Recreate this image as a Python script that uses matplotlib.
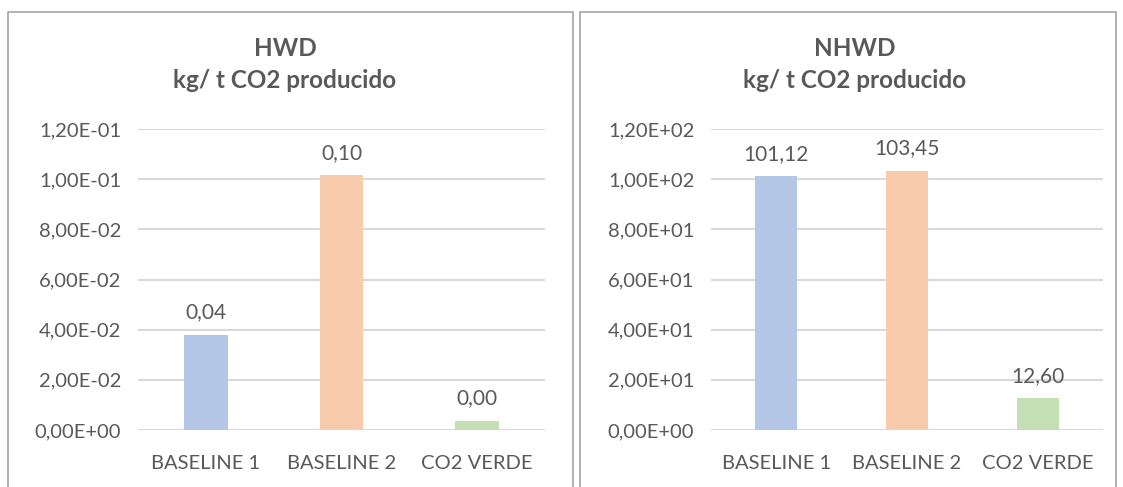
import numpy as np
import matplotlib.pyplot as plt
from matplotlib.patches import Rectangle

# datos
categorias = ['BASELINE 1', 'BASELINE 2', 'CO2 VERDE']
hwd = [0.038, 0.1015, 0.0036]
hwd_labels = ['0,04', '0,10', '0,00']
nhwd = [101.12, 103.45, 12.60]
nhwd_labels = ['101,12', '103,45', '12,60']
colores = ['#b4c7e7', '#f8cbad', '#c5e0b4']
texto = '#595959'

plt.rcParams['font.family'] = ['Lato', 'DejaVu Sans']

fig = plt.figure(figsize=(11.23, 4.87), dpi=100)

# marcos de los graficos (como en Excel)
for x0, x1 in [(8, 573), (580, 1116)]:
    fig.patches.append(Rectangle((x0 / 1123, -0.01), (x1 - x0) / 1123, 1 - 12 / 487 + 0.01,
                                 transform=fig.transFigure, fill=False,
                                 edgecolor='#a6a6a6', linewidth=1.2))

def grafico(ax, valores, etiquetas, ymax, paso, titulo, xc):
    x = np.arange(len(categorias))
    ax.bar(x, valores, width=0.32, color=colores, zorder=3)
    ax.set_xlim(-0.5, 2.5)
    ax.set_ylim(0, ymax)
    ticks = np.arange(0, ymax + paso / 2, paso)
    ax.set_yticks(ticks)
    ax.set_yticklabels([f'{t:.2E}'.replace('.', ',') for t in ticks])
    ax.set_xticks(x)
    ax.set_xticklabels(categorias)
    ax.grid(axis='y', color='#d9d9d9', linewidth=1.5, zorder=0)
    for s in ax.spines.values():
        s.set_visible(False)
    ax.tick_params(length=0, colors=texto)
    ax.tick_params(axis='y', labelsize=14.5, pad=12)
    ax.tick_params(axis='x', labelsize=14.5, pad=18)
    for xi, v, lab in zip(x, valores, etiquetas):
        ax.annotate(lab, (xi, v), xytext=(0, 9), textcoords='offset points',
                    ha='center', va='bottom', fontsize=15, color=texto)
    fig.text(xc, 1 - 48 / 487, titulo, ha='center', va='center', fontsize=17.5,
             fontweight='bold', color=texto)
    fig.text(xc, 1 - 81 / 487, 'kg/ t CO2 producido', ha='center', va='center',
             fontsize=17.5, fontweight='bold', color=texto)

ax1 = fig.add_axes([138 / 1123, 1 - 430 / 487, 407 / 1123, 301 / 487])
grafico(ax1, hwd, hwd_labels, 0.12, 0.02, 'HWD', 285 / 1123)

ax2 = fig.add_axes([711 / 1123, 1 - 430 / 487, 392 / 1123, 301 / 487])
grafico(ax2, nhwd, nhwd_labels, 120, 20, 'NHWD', 855 / 1123)

fig.savefig('out.png', dpi=100)
